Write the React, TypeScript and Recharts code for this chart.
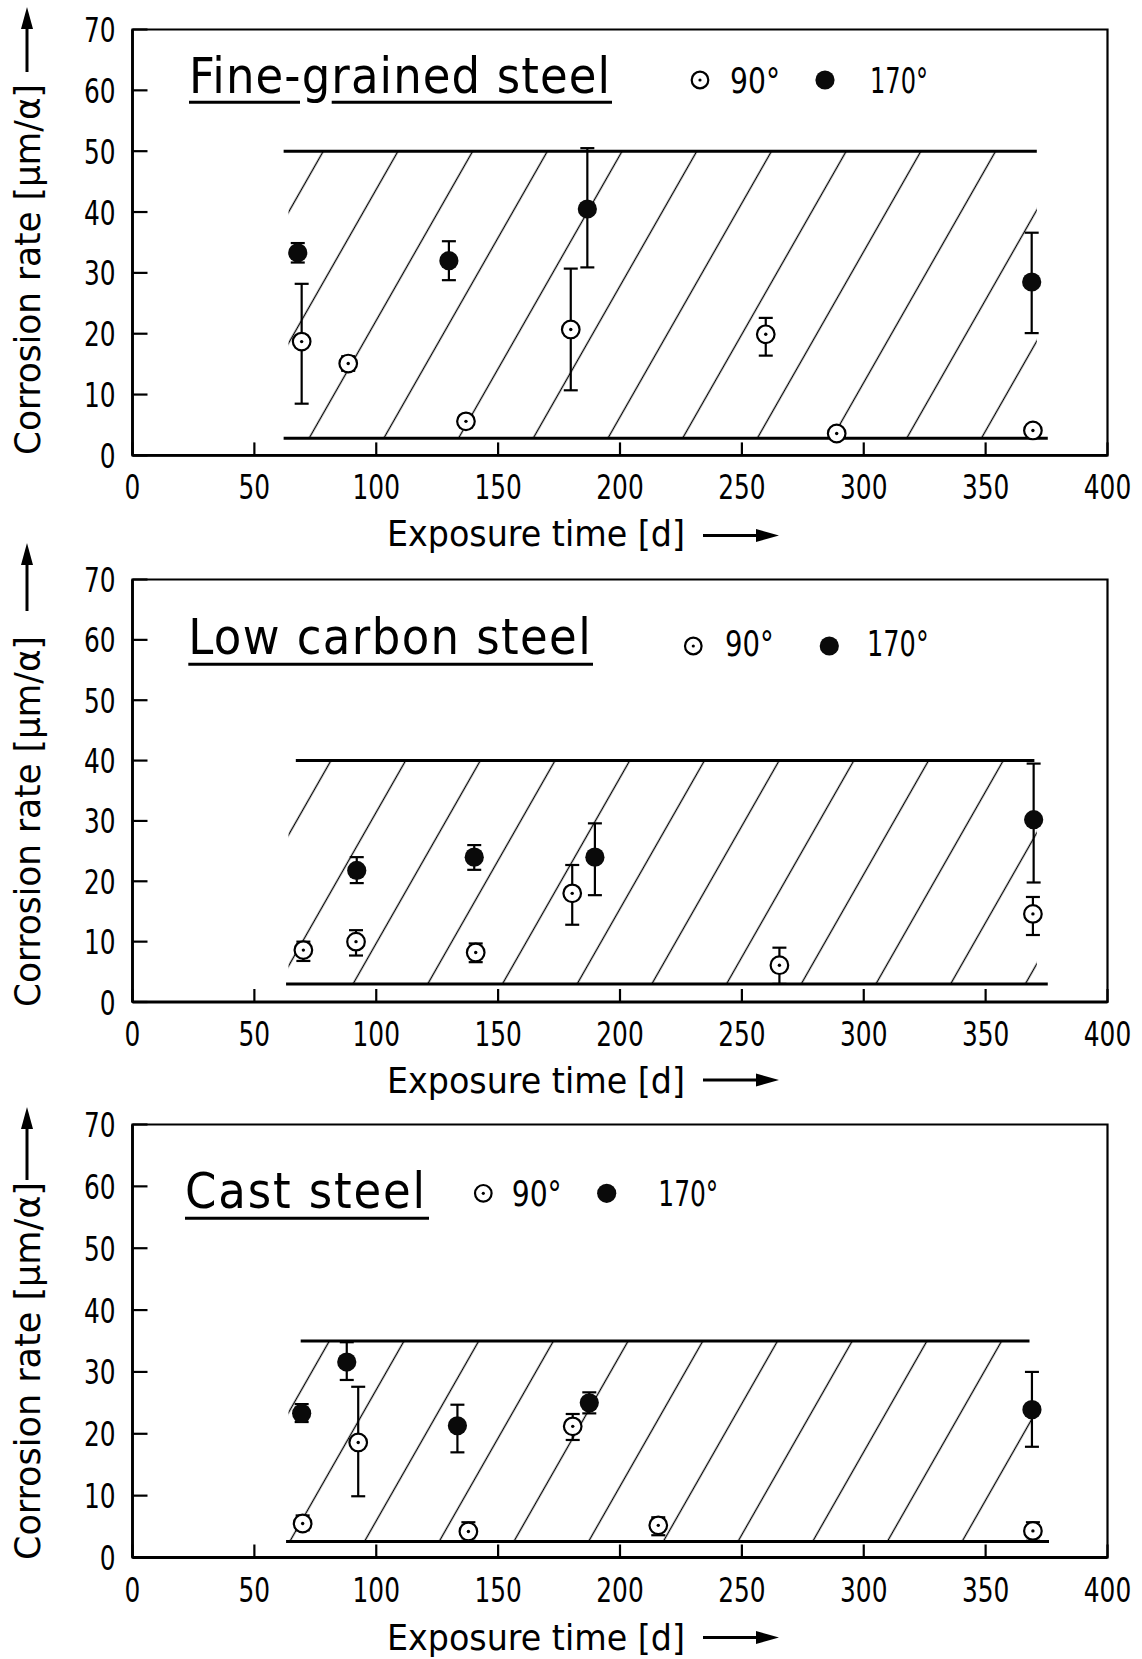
import React from 'react';
import {
  ScatterChart,
  Scatter,
  XAxis,
  YAxis,
  ErrorBar,
  ReferenceArea,
  ReferenceLine,
} from 'recharts';

// ---------- data ----------
const xTicks = [0, 50, 100, 150, 200, 250, 300, 350, 400];
const yTicks = [0, 10, 20, 30, 40, 50, 60, 70];

const panelTitles = ['Fine-grained steel', 'Low carbon steel', 'Cast steel'];
const seriesNames = ['90°', '170°'];
const xAxisTitle = 'Exposure time [d]';
const yAxisTitle = 'Corrosion rate [μm/α]';

// Fine-grained steel
const fineOpenDays = [69.4, 88.5, 136.8, 179.8, 259.8, 288.9, 369.4];
const fineOpenRate = [18.7, 15.1, 5.6, 20.7, 19.9, 3.6, 4.1];
const fineOpenErrLow = [10.2, 1.2, 1.0, 10.0, 3.5, 0, 0];
const fineOpenErrHigh = [9.5, 1.2, 1.0, 10.0, 2.7, 0, 0];
const fineFilledDays = [67.8, 129.8, 186.6, 368.9];
const fineFilledRate = [33.3, 32.0, 40.5, 28.5];
const fineFilledErrLow = [1.6, 3.2, 9.6, 8.4];
const fineFilledErrHigh = [1.6, 3.2, 10.0, 8.1];

// Low carbon steel
const lowOpenDays = [70.1, 91.7, 140.8, 180.4, 265.4, 369.4];
const lowOpenRate = [8.6, 10.0, 8.2, 18.0, 6.1, 14.6];
const lowOpenErrLow = [1.8, 2.3, 1.6, 5.2, 3.1, 3.5];
const lowOpenErrHigh = [1.4, 1.9, 1.5, 4.7, 2.9, 2.8];
const lowFilledDays = [92.0, 140.2, 189.7, 369.7];
const lowFilledRate = [21.8, 24.0, 24.0, 30.2];
const lowFilledErrLow = [2.1, 2.1, 6.3, 10.4];
const lowFilledErrHigh = [2.2, 2.0, 5.6, 9.3];

// Cast steel
const castOpenDays = [69.8, 92.6, 137.8, 180.6, 215.7, 369.4];
const castOpenRate = [5.5, 18.6, 4.2, 21.2, 5.2, 4.3];
const castOpenErrLow = [1.1, 8.7, 1.5, 2.2, 1.6, 1.6];
const castOpenErrHigh = [1.3, 9.0, 1.5, 2.0, 1.3, 1.4];
const castFilledDays = [69.4, 87.9, 133.3, 187.4, 369.0];
const castFilledRate = [23.3, 31.6, 21.3, 25.0, 23.9];
const castFilledErrLow = [1.4, 2.9, 4.3, 1.7, 6.0];
const castFilledErrHigh = [1.5, 3.2, 3.4, 1.7, 6.1];

// scatter band of each steel (rate bounds and day range)
const bandLow = [2.8, 3.0, 2.6];
const bandHigh = [50, 40, 35];
const bandHighFrom = [62, 67, 69];
const bandHighTo = [371, 370, 368];
const bandLowFrom = [62, 63, 63];
const bandLowTo = [375.5, 375.5, 376];
const hatchFrom = [64, 64, 64];
const hatchTo = [371, 371, 369];

// ---------- layout ----------
const FONT = "'Liberation Sans Narrow', 'DejaVu Sans Condensed', 'Arial Narrow', sans-serif";
const PAGE_W = 1142;
const PAGE_H = 1659;
const PLOT_LEFT = 132.5;
const PLOT_RIGHT = 1107.5;
const Y_AXIS_W = 100;
const X_AXIS_H = 60;

const layouts = [
  {
    top: 0, height: 560, plotTop: 29.5, plotBottom: 455.4,
    hatchRef: [325, 148.2],
    title: { x: 189, y: 93.3, len: 421, ul: 102.3, ulEnd: 612, gap: [300, 331.7] },
    legend: { y: 80, textY: 93.3, open: 700, t90: 730, l90: 50, filled: 825, t170: 870, l170: 58 },
    yLabel: { base: 455, len: 371, arrowFrom: 72, arrowTip: 7 },
    xLabel: { y: 546, arrowY: 535.5 },
  },
  {
    top: 540, height: 570, plotTop: 579.5, plotBottom: 1002,
    hatchRef: [405, 221.7],
    title: { x: 188.3, y: 653.6, len: 402.4, ul: 664.3, ulEnd: 593, gap: null },
    legend: { y: 646, textY: 656, open: 693.3, t90: 725, l90: 48.7, filled: 829.3, t170: 867, l170: 61.7 },
    yLabel: { base: 1007, len: 371, arrowFrom: 611, arrowTip: 543 },
    xLabel: { y: 1092.5, arrowY: 1080 },
  },
  {
    top: 1085, height: 574, plotTop: 1124.5, plotBottom: 1557.5,
    hatchRef: [405, 254.3],
    title: { x: 185, y: 1208.3, len: 240, ul: 1218.3, ulEnd: 429, gap: null },
    legend: { y: 1193.3, textY: 1206, open: 483.3, t90: 511.7, l90: 50, filled: 606.7, t170: 658.3, l170: 60 },
    yLabel: { base: 1560, len: 378, arrowFrom: 1180, arrowTip: 1107 },
    xLabel: { y: 1650, arrowY: 1637.5 },
  },
];

const HATCH_STEP = 74.7;
const HATCH_SKEW = -29.68;

type Pt = { x: number; y: number; err: [number, number] };

const zipSeries = (days: number[], rate: number[], lo: number[], hi: number[]): Pt[] =>
  days.map((d, i) => ({ x: d, y: rate[i], err: [lo[i], hi[i]] }));

const panels = [
  {
    open: zipSeries(fineOpenDays, fineOpenRate, fineOpenErrLow, fineOpenErrHigh),
    filled: zipSeries(fineFilledDays, fineFilledRate, fineFilledErrLow, fineFilledErrHigh),
  },
  {
    open: zipSeries(lowOpenDays, lowOpenRate, lowOpenErrLow, lowOpenErrHigh),
    filled: zipSeries(lowFilledDays, lowFilledRate, lowFilledErrLow, lowFilledErrHigh),
  },
  {
    open: zipSeries(castOpenDays, castOpenRate, castOpenErrLow, castOpenErrHigh),
    filled: zipSeries(castFilledDays, castFilledRate, castFilledErrLow, castFilledErrHigh),
  },
];

// ---------- marks ----------
const OpenDot = (p: any) => {
  if (p.cx == null || p.cy == null) return null;
  return (
    <g>
      <circle cx={p.cx} cy={p.cy} r={8.8} fill="#fff" stroke="#000" strokeWidth={2.2} />
      <circle cx={p.cx} cy={p.cy} r={1.7} fill="#000" />
    </g>
  );
};

const FilledDot = (p: any) => {
  if (p.cx == null || p.cy == null) return null;
  return <circle cx={p.cx} cy={p.cy} r={9.6} fill="#0a0a0a" />;
};

const XTick = (p: any) => {
  const { x, y, payload } = p;
  const label = String(payload.value);
  return (
    <g>
      <line x1={x} y1={y} x2={x} y2={y - 13} stroke="#000" strokeWidth={2.2} />
      <text
        x={x}
        y={y + 44}
        textAnchor="middle"
        fontFamily={FONT}
        fontSize={34}
        fill="#000"
        textLength={label.length * 15.8}
        lengthAdjust="spacingAndGlyphs"
      >
        {label}
      </text>
    </g>
  );
};

const YTick = (p: any) => {
  const { x, y, payload } = p;
  const label = String(payload.value);
  return (
    <g>
      <line x1={x} y1={y} x2={x + 15} y2={y} stroke="#000" strokeWidth={2.2} />
      <text
        x={x - 17}
        y={y + 12.5}
        textAnchor="end"
        fontFamily={FONT}
        fontSize={34}
        fill="#000"
        textLength={label.length * 15.8}
        lengthAdjust="spacingAndGlyphs"
      >
        {label}
      </text>
    </g>
  );
};

const Panel = ({ i }: { i: number }) => {
  const L = layouts[i];
  const data = panels[i];
  const margin = {
    top: L.plotTop - L.top,
    left: PLOT_LEFT - Y_AXIS_W,
    right: PAGE_W - PLOT_RIGHT,
    bottom: L.top + L.height - L.plotBottom - X_AXIS_H,
  };
  return (
    <div style={{ position: 'absolute', left: 0, top: L.top, width: PAGE_W, height: L.height }}>
      <ScatterChart width={PAGE_W} height={L.height} margin={margin}>
        <XAxis
          type="number"
          dataKey="x"
          domain={[0, 400]}
          ticks={xTicks}
          interval={0}
          height={X_AXIS_H}
          tickSize={0}
          tickMargin={0}
          tickLine={false}
          axisLine={{ stroke: '#000', strokeWidth: 2.8 }}
          tick={(p: any) => <XTick {...p} />}
          allowDataOverflow
        />
        <YAxis
          type="number"
          dataKey="y"
          domain={[0, 70]}
          ticks={yTicks}
          interval={0}
          width={Y_AXIS_W}
          tickSize={0}
          tickMargin={0}
          tickLine={false}
          axisLine={{ stroke: '#000', strokeWidth: 2.8 }}
          tick={(p: any) => <YTick {...p} />}
          allowDataOverflow
        />
        <ReferenceArea x1={0} x2={400} y1={0} y2={70} fill="none" stroke="#000" strokeWidth={2.2} />
        <ReferenceArea
          x1={hatchFrom[i]}
          x2={hatchTo[i]}
          y1={bandLow[i]}
          y2={bandHigh[i]}
          fill={`url(#hatch${i})`}
          fillOpacity={1}
          stroke="none"
        />
        <ReferenceLine
          segment={[
            { x: bandHighFrom[i], y: bandHigh[i] },
            { x: bandHighTo[i], y: bandHigh[i] },
          ]}
          stroke="#000"
          strokeWidth={3}
        />
        <ReferenceLine
          segment={[
            { x: bandLowFrom[i], y: bandLow[i] },
            { x: bandLowTo[i], y: bandLow[i] },
          ]}
          stroke="#000"
          strokeWidth={3}
        />
        <Scatter name={seriesNames[0]} data={data.open} shape={OpenDot} isAnimationActive={false}>
          <ErrorBar dataKey="err" direction="y" width={7} stroke="#000" strokeWidth={2.2} isAnimationActive={false} />
        </Scatter>
        <Scatter name={seriesNames[1]} data={data.filled} shape={FilledDot} isAnimationActive={false}>
          <ErrorBar dataKey="err" direction="y" width={7} stroke="#000" strokeWidth={2.2} isAnimationActive={false} />
        </Scatter>
      </ScatterChart>
    </div>
  );
};

// titles, legend keys and axis captions drawn over the three panels
const Annotations = () => (
  <svg
    width={PAGE_W}
    height={PAGE_H}
    style={{ position: 'absolute', left: 0, top: 0, pointerEvents: 'none' }}
  >
    <defs>
      {layouts.map((L, i) => (
        <pattern
          key={i}
          id={`hatch${i}`}
          patternUnits="userSpaceOnUse"
          width={HATCH_STEP}
          height={40}
          patternTransform={`translate(${L.hatchRef[0] - HATCH_STEP / 2} ${L.hatchRef[1]}) skewX(${HATCH_SKEW})`}
        >
          <line x1={HATCH_STEP / 2} y1={-2} x2={HATCH_STEP / 2} y2={42} stroke="#000" strokeWidth={1.5} />
        </pattern>
      ))}
    </defs>
    {layouts.map((L, i) => {
      const t = L.title;
      const g = L.legend;
      const yl = L.yLabel;
      const xl = L.xLabel;
      return (
        <g key={i} fontFamily={FONT} fill="#000">
          {/* panel title */}
          <text x={t.x} y={t.y} fontSize={50} textLength={t.len} lengthAdjust="spacing">
            {panelTitles[i]}
          </text>
          {t.gap ? (
            <>
              <line x1={t.x} y1={t.ul} x2={t.gap[0]} y2={t.ul} stroke="#000" strokeWidth={3} />
              <line x1={t.gap[1]} y1={t.ul} x2={t.ulEnd} y2={t.ul} stroke="#000" strokeWidth={3} />
            </>
          ) : (
            <line x1={t.x} y1={t.ul} x2={t.ulEnd} y2={t.ul} stroke="#000" strokeWidth={3} />
          )}
          {/* legend */}
          <circle cx={g.open} cy={g.y} r={8.3} fill="#fff" stroke="#000" strokeWidth={2.2} />
          <circle cx={g.open} cy={g.y} r={1.6} fill="#000" />
          <text x={g.t90} y={g.textY} fontSize={36} textLength={g.l90} lengthAdjust="spacingAndGlyphs">
            {seriesNames[0]}
          </text>
          <circle cx={g.filled} cy={g.y} r={9.6} fill="#0a0a0a" />
          <text x={g.t170} y={g.textY} fontSize={36} textLength={g.l170} lengthAdjust="spacingAndGlyphs">
            {seriesNames[1]}
          </text>
          {/* y axis caption with arrow */}
          <text
            transform={`translate(40 ${yl.base}) rotate(-90)`}
            fontSize={35}
            textLength={yl.len}
            lengthAdjust="spacingAndGlyphs"
          >
            {yAxisTitle}
          </text>
          <line x1={27} y1={yl.arrowFrom} x2={27} y2={yl.arrowTip + 18} stroke="#000" strokeWidth={3} />
          <polygon
            points={`27,${yl.arrowTip} 21,${yl.arrowTip + 22} 33,${yl.arrowTip + 22}`}
            fill="#000"
          />
          {/* x axis caption with arrow */}
          <text x={387} y={xl.y} fontSize={35} textLength={298} lengthAdjust="spacingAndGlyphs">
            {xAxisTitle}
          </text>
          <line x1={703} y1={xl.arrowY} x2={760} y2={xl.arrowY} stroke="#000" strokeWidth={3} />
          <polygon
            points={`779,${xl.arrowY} 756,${xl.arrowY - 6.5} 756,${xl.arrowY + 6.5}`}
            fill="#000"
          />
        </g>
      );
    })}
  </svg>
);

export default function App() {
  return (
    <div style={{ position: 'absolute', left: 0, top: 0, width: PAGE_W, height: PAGE_H, background: '#fff' }}>
      {layouts.map((_, i) => (
        <Panel key={i} i={i} />
      ))}
      <Annotations />
    </div>
  );
}
